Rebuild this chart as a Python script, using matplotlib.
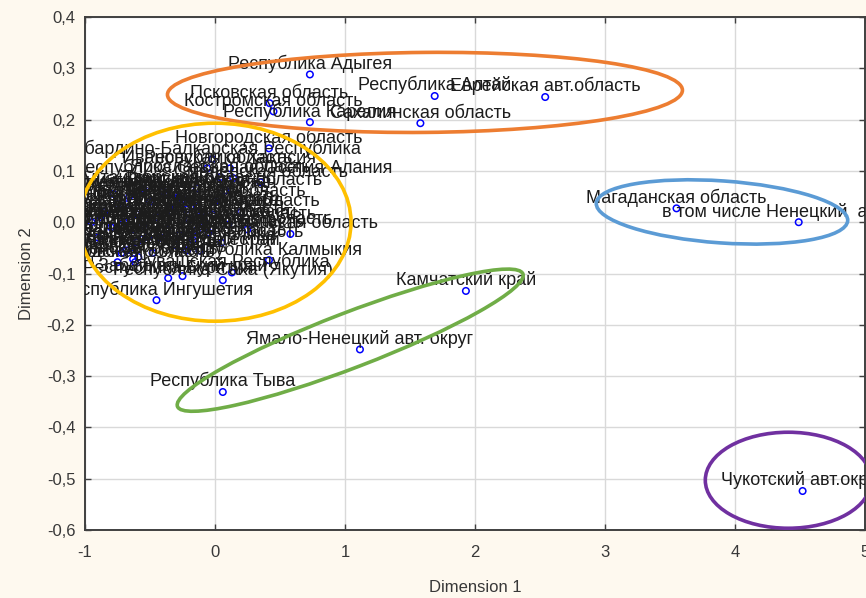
import matplotlib.pyplot as plt
from matplotlib.patches import Ellipse
from matplotlib.transforms import ScaledTranslation

plt.rcParams['font.family'] = ['Liberation Sans', 'DejaVu Sans']

# regions and their coordinates on the two MDS dimensions
regions = [
    "Республика Адыгея", "Республика Алтай", "Еврейская авт.область",
    "Псковская область", "Костромская область", "Республика Карелия",
    "Сахалинская область", "Магаданская область",
    "в том числе Ненецкий  авт. округ", "Чукотский авт.округ",
    "Камчатский край", "Ямало-Ненецкий авт. округ", "Республика Тыва",
    "Республика Ингушетия",
    # dense group near the origin
    "Новгородская область", "Кабардино-Балкарская Республика",
    "Ивановская область", "Республика Хакасия",
    "Республика Северная Осетия-Алания", "Ярославская область",
    "Смоленская область", "Владимирская область", "Тверская область",
    "Курганская область", "Мурманская область", "Тамбовская область",
    "Республика Калмыкия", "Республика Саха (Якутия)",
    "Чувашская Республика", "Забайкальский край", "Республика Бурятия",
    "Республика Дагестан", "Орловская область", "Брянская область",
    "Калужская область", "Курская область", "Рязанская область",
    "Липецкая область", "Тульская область", "Воронежская область",
    "Белгородская область", "Пензенская область", "Ульяновская область",
    "Кировская область", "Саратовская область", "Республика Марий Эл",
    "Республика Мордовия", "Карачаево-Черкесская Республика",
    "Чеченская Республика", "Ставропольский край", "Краснодарский край",
    "Астраханская область", "Волгоградская область", "Ростовская область",
    "Республика Башкортостан", "Республика Татарстан",
    "Удмуртская Республика", "Пермский край", "Нижегородская область",
    "Оренбургская область", "Самарская область", "Свердловская область",
    "Челябинская область", "Тюменская область", "Омская область",
    "Новосибирская область", "Томская область", "Кемеровская область",
    "Алтайский край", "Красноярский край", "Иркутская область",
    "Амурская область", "Хабаровский край", "Приморский край",
    "Республика Коми", "Архангельская область", "Вологодская область",
    "Калининградская область", "Ленинградская область", "Московская область",
    "г. Москва", "г. Санкт-Петербург", "Ханты-Мансийский авт. округ",
]

dim1 = [
    0.73, 1.69, 2.54,
    0.42, 0.45, 0.73,
    1.58, 3.55,
    4.49, 4.52,
    1.93, 1.115, 0.06,
    -0.45,
    0.415, -0.02,
    -0.06, 0.115,
    0.14, 0.04,
    0.35, 0.08, -0.14,
    -0.14, 0.58, 0.25,
    0.415, 0.06,
    0.13, -0.25, -0.36,
    -0.215, -0.37, -0.27,
    -0.14, -0.515, -0.56,
    -0.60, -0.64, -0.68,
    -0.75, -0.63, -0.59,
    -0.615, -0.85, -0.80,
    -0.75, -0.70,
    -0.66, -0.60, -0.55,
    -0.50, -0.45, -0.42,
    -0.38, -0.33,
    -0.30, -0.25, -0.20,
    -0.17, -0.10, -0.05,
    0.00, 0.05, -0.90,
    -0.72, -0.48, -0.28,
    -0.55, -0.12, 0.20,
    -0.78, -0.95, -0.62,
    -0.35, -0.08, 0.10,
    -0.88, -0.40, -0.22,
    -0.02, -0.68,
]

dim2 = [
    0.288, 0.246, 0.244,
    0.232, 0.216, 0.195,
    0.193, 0.027,
    0.0, -0.524,
    -0.134, -0.248, -0.331,
    -0.152,
    0.144, 0.123,
    0.105, 0.105,
    0.086, 0.088,
    0.078, 0.062, 0.066,
    0.031, -0.023, -0.014,
    -0.074, -0.113,
    -0.098, -0.105, -0.109,
    -0.055, -0.014, -0.025,
    -0.016, -0.029, -0.033,
    -0.039, -0.049, -0.055,
    -0.078, -0.072, -0.068,
    -0.078, 0.020, -0.010,
    0.035, 0.000,
    0.050, 0.015, -0.005,
    0.040, 0.010, -0.030,
    0.055, 0.020,
    -0.045, 0.045, 0.005,
    -0.035, 0.020, -0.020,
    0.040, -0.040, -0.030,
    -0.060, -0.060, 0.050,
    0.065, -0.055, 0.020,
    0.055, 0.000, -0.015,
    0.030, 0.000, -0.005,
    0.010, 0.060, 0.025,
    0.015, 0.035,
]

x_ticks = [-1, 0, 1, 2, 3, 4, 5]
y_ticks = [-0.6, -0.5, -0.4, -0.3, -0.2, -0.1, 0.0, 0.1, 0.2, 0.3, 0.4]
y_tick_labels = ["-0,6", "-0,5", "-0,4", "-0,3", "-0,2", "-0,1",
                 "0,0", "0,1", "0,2", "0,3", "0,4"]

fig = plt.figure(figsize=(8.66, 5.98), dpi=100, facecolor="#fef9ef")
ax = fig.add_axes([85 / 866, 68 / 598, 780 / 866, 513 / 598])
ax.set_facecolor("white")

ax.scatter(dim1, dim2, s=22, facecolors="none", edgecolors="#0000ff",
           linewidths=1.1, zorder=3, clip_on=True)

# labels sit centred a little above each point
offset = ScaledTranslation(0, 4 / 72, fig.dpi_scale_trans)
for name, x, y in zip(regions, dim1, dim2):
    ax.text(x, y, name, transform=ax.transData + offset, ha="center",
            va="baseline", fontsize=13, color="#1c1c1c", zorder=4,
            clip_on=True)

# hand-drawn groupings: centre in data units, size in inches
groups = [
    (1.615, 0.253, 5.15, 0.80, 0.5, "#ed7d31"),
    (0.00, 0.00, 2.72, 1.98, 0, "#ffc000"),
    (3.90, 0.020, 2.52, 0.62, -4, "#5b9bd5"),
    (1.04, -0.230, 3.70, 0.55, 21, "#70ad47"),
    (4.41, -0.503, 1.66, 0.96, 0, "#7030a0"),
]
for cx, cy, w, h, ang, col in groups:
    tr = fig.dpi_scale_trans + ScaledTranslation(cx, cy, ax.transData)
    ax.add_patch(Ellipse((0, 0), w, h, angle=ang, transform=tr, fill=False,
                         edgecolor=col, linewidth=2.6, zorder=5))

ax.set_xlim(-1, 5)
ax.set_ylim(-0.6, 0.4)
ax.set_xticks(x_ticks)
ax.set_xticklabels([str(t) for t in x_ticks])
ax.set_yticks(y_ticks)
ax.set_yticklabels(y_tick_labels)
ax.grid(True, color="#d9d9d9", linewidth=1)
ax.set_axisbelow(True)
ax.tick_params(direction="in", length=4, width=1, color="#404040",
               labelsize=12, labelcolor="#383838", top=True, right=True)
ax.tick_params(axis="x", pad=11)
ax.tick_params(axis="y", pad=7)
for sp in ax.spines.values():
    sp.set_color("#404040")
    sp.set_linewidth(1.4)

ax.set_xlabel("Dimension 1", fontsize=12, color="#383838", labelpad=14)
ax.set_ylabel("Dimension 2", fontsize=12, color="#383838", labelpad=9)

fig.savefig("out.png", dpi=100, facecolor=fig.get_facecolor())
